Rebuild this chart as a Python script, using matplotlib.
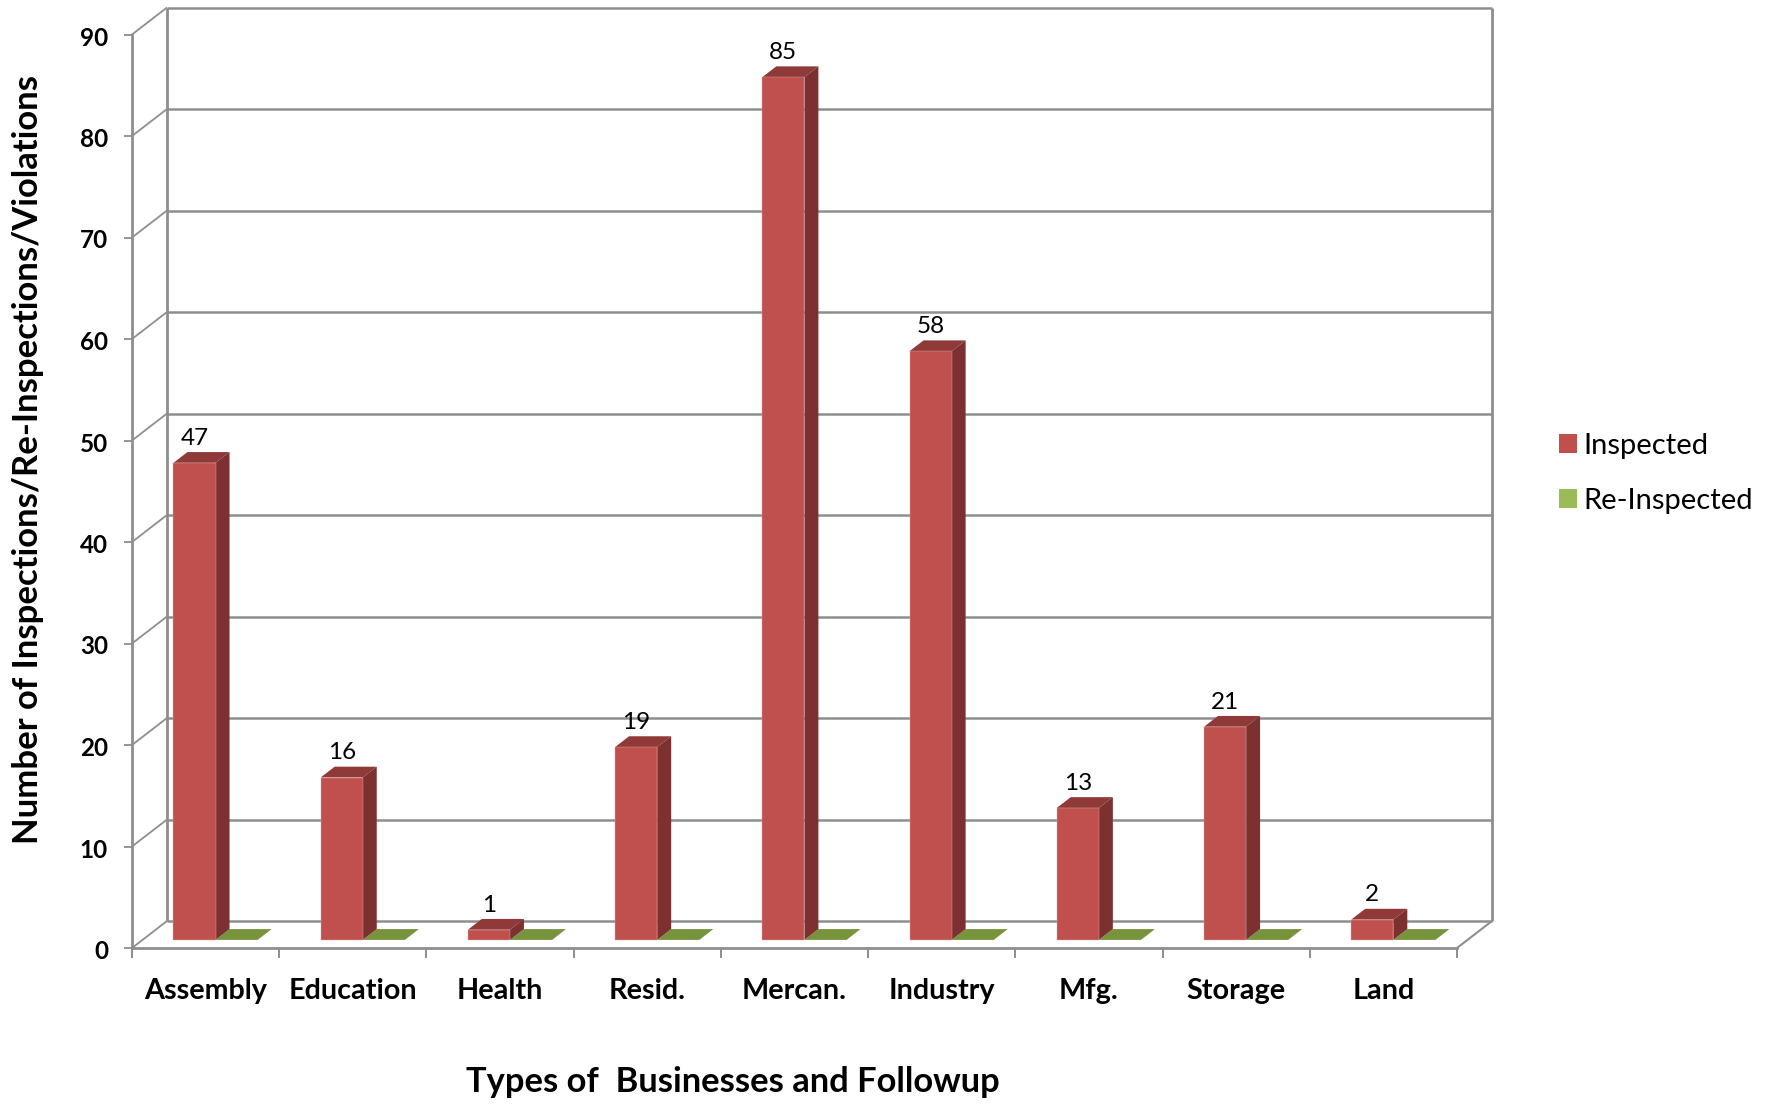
import matplotlib
matplotlib.use("Agg")
import matplotlib.pyplot as plt
from matplotlib.patches import Patch
from matplotlib.transforms import ScaledTranslation
import numpy as np

categories = ["Assembly", "Education", "Health", "Resid.", "Mercan.",
              "Industry", "Mfg.", "Storage", "Land"]
inspected = [47, 16, 1, 19, 85, 58, 13, 21, 2]
reinspected = [0, 0, 0, 0, 0, 0, 0, 0, 0]
y_ticks = [0, 10, 20, 30, 40, 50, 60, 70, 80, 90]

W, H = 1768, 1104
L, R, T, B = 132, 1457, 34.5, 948
FONT = "Lato"
GRID = "#8e8e8e"

fig = plt.figure(figsize=(W / 100, H / 100), dpi=100, facecolor="white")
ax = fig.add_axes([L / W, 1 - B / H, (R - L) / W, (B - T) / H])
ax.set_xlim(0, len(categories))
ax.set_ylim(0, 90)
ax.patch.set_visible(False)

px_x = (R - L) / len(categories)
px_y = (B - T) / 90
wall_dx, wall_dy = 35 / px_x, 27 / px_y       # full depth of the chart floor
front = 0.3                                   # bars start this far into the depth
deep = 0.4                                    # bars use this share of the depth
gap, bw = 0.21, 0.286


def line(xs, ys, lw=2.0):
    ax.plot(xs, ys, color=GRID, lw=lw, clip_on=False, zorder=1, solid_capstyle="butt")


for v in y_ticks:
    line([wall_dx, len(categories) + wall_dx], [v + wall_dy] * 2, 1.8)
    line([0, wall_dx], [v, v + wall_dy], 1.3)
line([wall_dx, wall_dx], [wall_dy, 90 + wall_dy], 2.0)
line([len(categories) + wall_dx] * 2, [wall_dy, 90 + wall_dy], 2.0)
line([len(categories), len(categories) + wall_dx], [0, wall_dy], 1.5)

base = front * wall_dy
xoff = front * wall_dx
ddx, ddy = deep * wall_dx, deep * wall_dy
idx = np.arange(len(categories))


def box(x, h, c_front, c_top, c_side, z):
    ax.bar(x + xoff, h, bw, bottom=base, align="edge", color=c_front,
           edgecolor="#dba8a6" if h > 0 else "none", linewidth=0.3,
           clip_on=False, zorder=z + 2)
    x0, x1 = x + xoff, x + xoff + bw
    y1 = base + h
    ax.fill([x0, x1, x1 + ddx, x0 + ddx], [y1, y1, y1 + ddy, y1 + ddy],
            color=c_top, lw=0, clip_on=False, zorder=z + 1)
    if h > 0:
        ax.fill([x1, x1 + ddx, x1 + ddx, x1], [base, base + ddy, y1 + ddy, y1],
                color=c_side, lw=0, clip_on=False, zorder=z + 1)


for i in idx:
    box(i + gap + bw, reinspected[i], "#77933c", "#77933c", "#77933c", 3)
    box(i + gap, inspected[i], "#c0504d", "#8f3a38", "#7c3130", 6)
    ax.annotate(str(inspected[i]), (i + gap + xoff + bw / 2, base + inspected[i] + ddy),
                xytext=(0, 10), textcoords="offset points", ha="center", va="center",
                fontsize=17.5, family=FONT, color="black", zorder=12)

for side in ("top", "right"):
    ax.spines[side].set_visible(False)
for side in ("left", "bottom"):
    ax.spines[side].set_color(GRID)
    ax.spines[side].set_linewidth(2.0)
    ax.spines[side].set_zorder(2)

ax.set_yticks(y_ticks)
ax.set_xticks(np.arange(len(categories) + 1))
ax.set_xticklabels([])
ax.set_xticks(idx + 0.5, minor=True)
ax.set_xticklabels(categories, minor=True)
ax.tick_params(axis="y", length=5.8, width=1.3, color=GRID, pad=11.5,
               labelsize=17.5, labelfontfamily=FONT)
shift = ScaledTranslation(0, -1.5 / 100, fig.dpi_scale_trans)
for t in ax.get_yticklabels():
    t.set_fontweight("bold")
    t.set_transform(t.get_transform() + shift)
ax.tick_params(axis="x", which="major", length=7.4, width=1.4, color=GRID)
ax.tick_params(axis="x", which="minor", length=0, pad=21.7, labelsize=20.7,
               labelfontfamily=FONT)
for t in ax.get_xticklabels(minor=True):
    t.set_fontweight("bold")

ax.set_xlabel("Types of  Businesses and Followup", fontsize=24.8, fontweight="bold",
              family=FONT, va="center")
ax.xaxis.set_label_coords((733 - L) / (R - L), -(1082 - B) / (B - T))
ax.set_ylabel("Number of Inspections/Re-Inspections/Violations", fontsize=24.9,
              fontweight="bold", family=FONT, va="center")
ax.yaxis.set_label_coords((28 - L) / (R - L), (B - 460) / (B - T))

handles = [Patch(facecolor="#c0504d", label="Inspected"),
           Patch(facecolor="#9bbb59", label="Re-Inspected")]
fig.legend(handles=handles, loc="center left", frameon=False,
           bbox_to_anchor=(1533 / W, 1 - 473.5 / H),
           prop={"family": FONT, "size": 21}, handlelength=0.62, handleheight=0.62,
           handletextpad=0.2, labelspacing=1.0)

fig.savefig("out.png", dpi=100)
